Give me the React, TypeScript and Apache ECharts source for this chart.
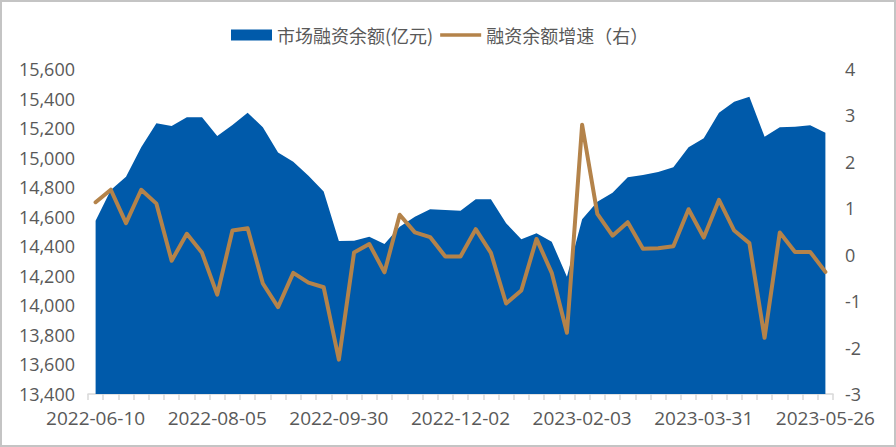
import React, { useEffect, useRef } from "react";
import * as echarts from "echarts";

const dates: string[] = [
  "2022-06-10", "2022-06-17", "2022-06-24", "2022-07-01", "2022-07-08", "2022-07-15", "2022-07-22", "2022-07-29",
  "2022-08-05", "2022-08-12", "2022-08-19", "2022-08-26", "2022-09-02", "2022-09-09", "2022-09-16", "2022-09-23",
  "2022-09-30", "2022-10-14", "2022-10-21", "2022-10-28", "2022-11-04", "2022-11-11", "2022-11-18", "2022-11-25",
  "2022-12-02", "2022-12-09", "2022-12-16", "2022-12-23", "2022-12-30", "2023-01-06", "2023-01-13", "2023-01-20",
  "2023-02-03", "2023-02-10", "2023-02-17", "2023-02-24", "2023-03-03", "2023-03-10", "2023-03-17", "2023-03-24",
  "2023-03-31", "2023-04-07", "2023-04-14", "2023-04-21", "2023-04-28", "2023-05-05", "2023-05-12", "2023-05-19",
  "2023-05-26",
];

const balance: number[] = [
  14573, 14781, 14871, 15070, 15232, 15214, 15273, 15273,
  15146, 15221, 15304, 15205, 15034, 14973, 14878, 14770,
  14435, 14438, 14465, 14415, 14533, 14600, 14650, 14646,
  14641, 14718, 14718, 14556, 14448, 14488, 14431, 14194,
  14583, 14702, 14763, 14867, 14882, 14903, 14935, 15070,
  15131, 15304, 15379, 15413, 15142, 15205, 15209, 15219,
  15169,
];

const growth: number[] = [
  1.13, 1.4, 0.68, 1.4, 1.1, -0.13, 0.45, 0.04,
  -0.86, 0.52, 0.57, -0.62, -1.13, -0.39, -0.6, -0.7,
  -2.26, 0.05, 0.23, -0.38, 0.86, 0.48, 0.38, -0.04,
  -0.04, 0.55, 0.04, -1.05, -0.77, 0.34, -0.39, -1.68,
  2.8, 0.88, 0.41, 0.7, 0.13, 0.14, 0.18, 0.98,
  0.37, 1.18, 0.52, 0.25, -1.79, 0.48, 0.06, 0.06,
  -0.37,
];

const seriesNames: string[] = ["市场融资余额(亿元)", "融资余额增速（右）"];

export default function App() {
  const ref = useRef<HTMLDivElement>(null);
  useEffect(() => {
    if (!ref.current) return;
    const chart = echarts.init(ref.current, null, { renderer: "svg" });
    const labelColor = "#595959";
    const numFont = "Open Sans";
    const lineColor = "#b4834a";
    chart.setOption({
      animation: false,
      backgroundColor: "#ffffff",
      graphic: [
        {
          type: "rect",
          shape: { x: 1, y: 1, width: 894, height: 445 },
          style: { fill: "none", stroke: "#c4c4c4", lineWidth: 2 },
          silent: true,
        },
      ],
      legend: {
        left: 226,
        top: 21,
        itemWidth: 41,
        itemHeight: 11,
        itemGap: 7,
        symbolKeepAspect: true,
        textStyle: {
          color: labelColor,
          fontSize: 18,
          fontFamily: "Noto Sans CJK SC",
        },
        data: [
          { name: seriesNames[0], icon: "rect" },
          {
            name: seriesNames[1],
            icon: "path://M0,0 L45,0 L45,4 L0,4 Z",
            itemStyle: { color: lineColor },
          },
        ],
      },
      grid: { left: 88, right: 63, top: 69, bottom: 53, containLabel: false },
      xAxis: {
        type: "category",
        data: dates,
        boundaryGap: true,
        axisLine: { show: true, onZero: false, lineStyle: { color: "#d9d9d9", width: 1.5 } },
        axisTick: { show: true, interval: 0, length: 6, lineStyle: { color: "#d9d9d9", width: 1.5 } },
        axisLabel: {
          interval: 7,
          color: labelColor,
          fontSize: 19,
          fontFamily: numFont,
          margin: 14,
        },
        splitLine: { show: false },
      },
      yAxis: [
        {
          type: "value",
          min: 13400,
          max: 15600,
          interval: 200,
          axisLine: { show: false },
          axisTick: { show: false },
          splitLine: { show: false },
          axisLabel: {
            color: labelColor,
            fontSize: 18,
            fontFamily: numFont,
            margin: 13,
            formatter: (v: number) => v.toLocaleString("en-US"),
          },
        },
        {
          type: "value",
          min: -3,
          max: 4,
          interval: 1,
          axisLine: { show: false },
          axisTick: { show: false },
          splitLine: { show: false },
          axisLabel: {
            color: labelColor,
            fontSize: 18,
            fontFamily: numFont,
            margin: 12,
          },
        },
      ],
      series: [
        {
          name: seriesNames[0],
          type: "line",
          data: balance,
          yAxisIndex: 0,
          symbol: "none",
          lineStyle: { width: 0, color: "#005aaa" },
          itemStyle: { color: "#005aaa" },
          areaStyle: { color: "#005aaa", opacity: 1, origin: "start" },
          z: 1,
        },
        {
          name: seriesNames[1],
          type: "line",
          data: growth,
          yAxisIndex: 1,
          symbol: "none",
          lineStyle: { width: 4, color: lineColor, join: "round", cap: "round" },
          itemStyle: { color: lineColor },
          z: 2,
        },
      ],
    });
    return () => chart.dispose();
  }, []);
  return (
    <div
      ref={ref}
      style={{ position: "absolute", left: 0, top: 0, width: 896, height: 447 }}
    />
  );
}
